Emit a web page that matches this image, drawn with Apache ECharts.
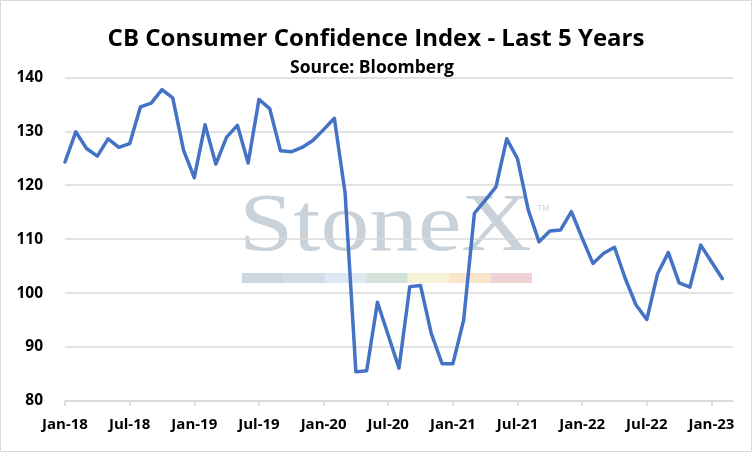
<!DOCTYPE html>
<html>
<head>
<meta charset="utf-8">
<script src="https://cdn.jsdelivr.net/npm/echarts@6/dist/echarts.min.js"></script>
<style>
html,body{margin:0;padding:0;background:#fff;}
#c{width:752px;height:452px;}
</style>
</head>
<body>
<div id="c"></div>
<script>
var titleText = 'CB Consumer Confidence Index - Last 5 Years';
var subtitleText = 'Source: Bloomberg';
var months = [
 'Jan-18','Feb-18','Mar-18','Apr-18','May-18','Jun-18','Jul-18','Aug-18','Sep-18','Oct-18','Nov-18','Dec-18',
 'Jan-19','Feb-19','Mar-19','Apr-19','May-19','Jun-19','Jul-19','Aug-19','Sep-19','Oct-19','Nov-19','Dec-19',
 'Jan-20','Feb-20','Mar-20','Apr-20','May-20','Jun-20','Jul-20','Aug-20','Sep-20','Oct-20','Nov-20','Dec-20',
 'Jan-21','Feb-21','Mar-21','Apr-21','May-21','Jun-21','Jul-21','Aug-21','Sep-21','Oct-21','Nov-21','Dec-21',
 'Jan-22','Feb-22','Mar-22','Apr-22','May-22','Jun-22','Jul-22','Aug-22','Sep-22','Oct-22','Nov-22','Dec-22',
 'Jan-23','Feb-23','Mar-23'
];
var confidence = [
 124.3,129.9,126.8,125.4,128.6,127.0,127.7,134.5,135.2,137.7,136.2,126.5,
 121.4,131.2,123.9,128.9,131.1,124.1,135.9,134.2,126.4,126.2,127.0,128.3,
 130.3,132.4,118.5,85.4,85.6,98.3,92.2,86.1,101.2,101.4,92.5,86.9,
 86.9,95.0,114.8,117.2,119.7,128.6,124.9,115.4,109.5,111.5,111.7,115.1,
 110.2,105.5,107.4,108.5,102.7,97.8,95.1,103.6,107.5,101.9,101.1,108.9,
 105.8,102.7
];
var yTicks = [80, 90, 100, 110, 120, 130, 140];
var watermarkColors = ['#cdd5dd','#d2dce7','#dce8f3','#d2e2d9','#f6f3d9','#f9e5ca','#f0d2d4'];

var chart = echarts.init(document.getElementById('c'));
var wmBars = watermarkColors.map(function(c, i){
  return {type:'rect', z:-10, shape:{x:242 + i*41.4, y:273, width:41.6, height:10}, style:{fill:c}};
});
var option = {
  backgroundColor:'#fff',
  animation:false,
  title:[
    {text:titleText, left:'center', top:22, textStyle:{fontFamily:'Open Sans', fontWeight:'bold', fontSize:24, color:'#000'}},
    {text:subtitleText, left:285, top:54, textStyle:{fontFamily:'Open Sans', fontWeight:'bold', fontSize:17.5, color:'#000'}}
  ],
  graphic:[
    {type:'rect', z:-20, shape:{x:0.5, y:0.5, width:751, height:451}, style:{fill:'#fff', stroke:'#d9d9d9', lineWidth:1}},
    {type:'text', z:-10, x:239, y:228, scaleX:1.19, style:{text:'StoneX', fontFamily:'Liberation Serif', fontSize:82, fill:'#c9d1d9', align:'left', verticalAlign:'middle'}},
    {type:'text', z:-10, x:537, y:209, style:{text:'TM', fontFamily:'Liberation Sans', fontSize:8.5, fill:'#c9d1d9', align:'left', verticalAlign:'middle'}}
  ].concat(wmBars),
  grid:{left:65, right:19, top:77.3, bottom:51},
  xAxis:{
    type:'category', data:months, boundaryGap:false,
    axisLine:{lineStyle:{color:'#d9d9d9', width:1.5}},
    axisTick:{show:true, interval:5, length:5, lineStyle:{color:'#d9d9d9', width:1.5}},
    axisLabel:{interval:5, margin:16, fontFamily:'Open Sans', fontWeight:'bold', fontSize:15, color:'#000',
      formatter:function(v){ return v === 'Mar-23' ? '' : v; }},
    splitLine:{show:false}
  },
  yAxis:{
    type:'value', min:yTicks[0], max:yTicks[yTicks.length-1], interval:10,
    axisLine:{show:false}, axisTick:{show:false},
    axisLabel:{margin:22, fontFamily:'Open Sans', fontWeight:'bold', fontSize:15.5, color:'#000'},
    splitLine:{lineStyle:{color:'#d9d9d9', width:1.5}}
  },
  series:[{
    type:'line', data:confidence, showSymbol:false, symbol:'none', z:5,
    lineStyle:{color:'#4472c4', width:3.5, join:'round', cap:'round'}
  }]
};
chart.setOption(option);
</script>
</body>
</html>
